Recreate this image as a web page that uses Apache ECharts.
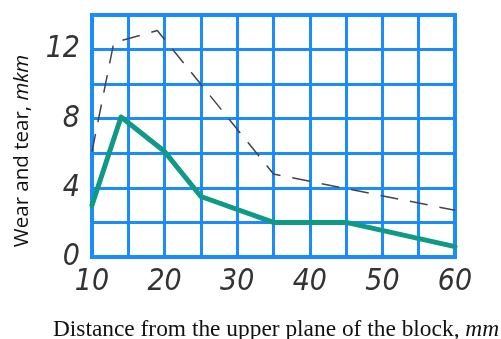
<!DOCTYPE html>
<html><head><meta charset="utf-8">
<script src="https://cdn.jsdelivr.net/npm/echarts@6/dist/echarts.min.js"></script>
<style>html,body{margin:0;padding:0;background:#fff}#c{width:501px;height:339px}</style>
</head><body><div id="c"></div>
<script>
var solidX = [10, 14, 20, 25, 35, 45, 60];
var solidY = [3.0, 8.1, 6.1, 3.5, 2.0, 2.0, 0.6];
var dashX = [10, 13, 19, 35, 60];
var dashY = [6.1, 12.4, 13.1, 4.8, 2.7];
var xLabels = [10, 20, 30, 40, 50, 60];
var yLabels = [0, 4, 8, 12];
var xTitle = 'Distance from the upper plane of the block, ';
var xUnit = 'mm';
var yTitle = 'Wear and tear, ';
var yUnit = 'mkm';

function pairs(xs, ys){ return xs.map(function(x,i){ return [x, ys[i]]; }); }
var blue = '#1a8cff';
var labelFont = {fontFamily: "'DejaVu Sans Condensed','Liberation Sans Narrow','DejaVu Sans',sans-serif", fontStyle: 'italic', fontWeight: 'normal', fontSize: 30, color: '#333'};

var chart = echarts.init(document.getElementById('c'));
chart.setOption({
  animation: false,
  grid: {left: 92, right: 46, top: 15, bottom: 82, show: true, borderColor: blue, borderWidth: 4, backgroundColor: 'transparent'},
  xAxis: {
    type: 'value', min: 10, max: 60, interval: 5,
    axisLine: {show: false}, axisTick: {show: false},
    splitLine: {show: true, lineStyle: {color: blue, width: 3}},
    axisLabel: Object.assign({margin: 10, formatter: function(v){ return xLabels.indexOf(v) >= 0 ? String(v) : ''; }}, labelFont)
  },
  yAxis: {
    type: 'value', min: 0, max: 14, interval: 2,
    axisLine: {show: false}, axisTick: {show: false},
    splitLine: {show: true, lineStyle: {color: blue, width: 3}},
    axisLabel: Object.assign({margin: 12, formatter: function(v){ return yLabels.indexOf(v) >= 0 ? String(v) : ''; }}, labelFont)
  },
  graphic: [
    {type: 'text', x: 276, y: 330, style: {
      text: '{a|' + xTitle + '}{b|' + xUnit + '}', align: 'center', verticalAlign: 'middle',
      rich: {
        a: {fontFamily: "'Liberation Serif',serif", fontSize: 23.4, fill: '#111'},
        b: {fontFamily: "'Liberation Serif',serif", fontSize: 23.4, fontStyle: 'italic', fill: '#111'}
      }}},
    {type: 'text', x: 22, y: 151, rotation: Math.PI / 2, style: {
      text: '{a|' + yTitle + '}{b|' + yUnit + '}', align: 'center', verticalAlign: 'middle',
      rich: {
        a: {fontFamily: "'Open Sans',sans-serif", fontSize: 20.5, fill: '#111'},
        b: {fontFamily: "'Open Sans',sans-serif", fontSize: 20.5, fontStyle: 'italic', fill: '#111'}
      }}}
  ],
  series: [
    {type: 'line', data: pairs(dashX, dashY), symbol: 'none', z: 3,
     lineStyle: {color: '#444', width: 1.5, type: [18, 12]}},
    {type: 'line', data: pairs(solidX, solidY), symbol: 'none', z: 4,
     lineStyle: {color: '#119987', width: 5, cap: 'round', join: 'round'}}
  ]
});
</script></body></html>
